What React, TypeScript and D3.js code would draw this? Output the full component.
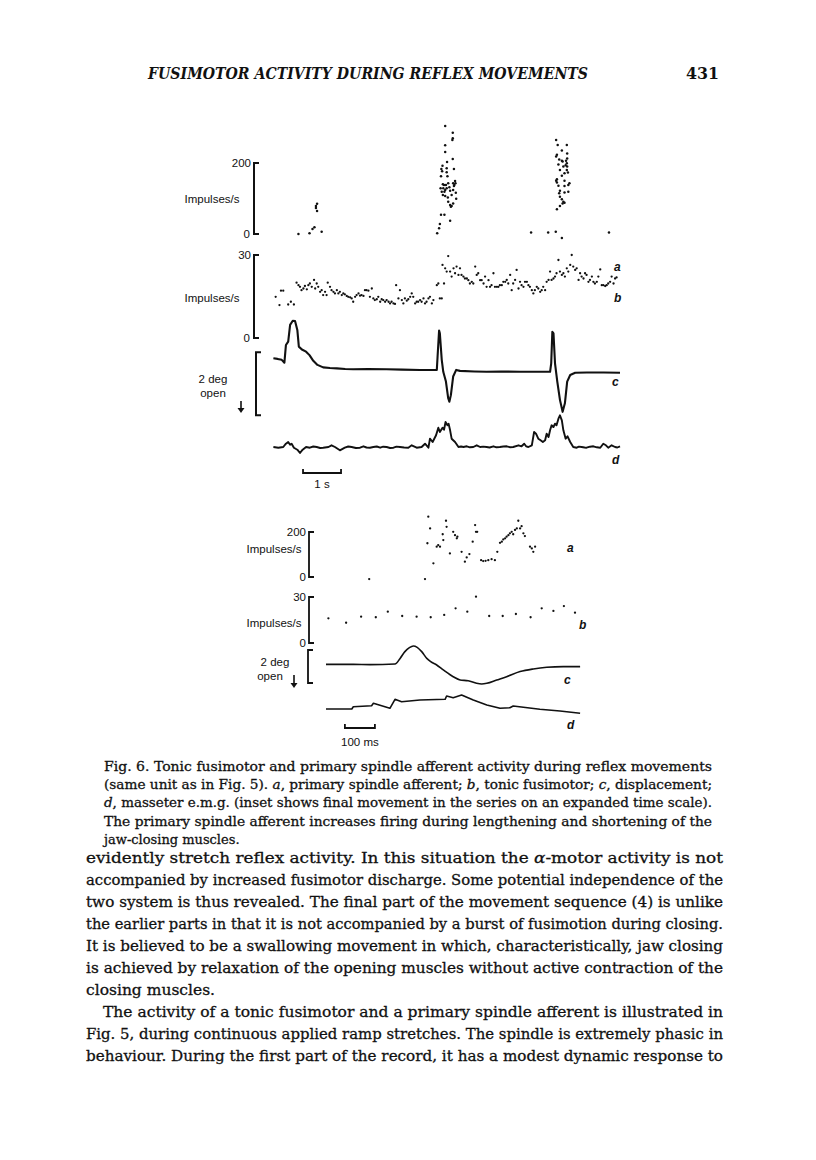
import React from "react";
import * as d3 from "d3";

// ---------- DATA ----------
// Top record: time in s, rates in impulses/s, displacement in deg, EMG in arbitrary units
const aTopSpikes: [number, number][] = [
  [0.67, 0], [0.96, 2], [1.04, 14], [1.09, 19], [1.28, 6], [1.16, 85], [1.13, 79], [1.13, 73], [1.16, 65],
  [4.53, 304], [4.73, 285], [4.73, 270], [4.72, 265], [4.53, 250], [4.53, 231], [4.73, 211], [4.58, 203],
  [4.46, 192], [4.43, 183], [4.45, 177], [4.57, 185], [4.76, 183], [4.57, 174], [4.42, 163], [4.59, 163],
  [4.79, 149], [4.47, 140], [4.5, 138], [4.55, 138], [4.61, 143], [4.74, 143], [4.77, 138], [4.8, 143],
  [4.76, 135], [4.41, 129], [4.48, 129], [4.53, 124], [4.57, 129], [4.64, 132], [4.66, 122], [4.44, 119],
  [4.51, 119], [4.74, 124], [4.81, 116], [4.47, 110], [4.53, 107], [4.6, 103], [4.7, 110], [4.82, 99],
  [4.61, 91], [4.66, 82], [4.7, 79], [4.68, 77], [4.74, 86], [4.42, 54], [4.51, 54], [4.66, 37],
  [4.39, 28], [4.37, 16], [4.32, 2],
  [7.45, 265], [7.49, 251], [7.73, 251], [7.6, 235], [7.47, 223], [7.45, 218], [7.74, 227], [7.53, 210],
  [7.74, 213], [7.6, 206], [7.62, 204], [7.51, 196], [7.71, 206], [7.73, 199], [7.7, 194], [7.74, 190],
  [7.64, 190], [7.55, 180], [7.73, 180], [7.76, 173], [7.67, 171], [7.6, 164], [7.47, 154], [7.45, 150],
  [7.47, 145], [7.67, 150], [7.8, 143], [7.77, 138], [7.51, 136], [7.67, 135], [7.55, 122], [7.53, 115],
  [7.77, 119], [7.67, 117], [7.55, 105], [7.6, 98], [7.64, 91], [7.62, 86], [7.67, 88], [7.55, 79],
  [7.47, 70], [6.79, 4], [7.24, 4], [7.44, 6], [7.6, -11], [8.84, 4],
];

const bTopSpikes: [number, number][] = [
  [0.07, 14.9], [0.17, 11.9], [0.21, 17.1], [0.27, 17.1], [0.4, 12.1], [0.47, 13.1], [0.55, 12.1],
  [0.62, 20.0], [0.67, 19.1], [0.71, 18.5], [0.75, 17.3], [0.8, 17.9], [0.84, 18.8], [0.89, 17.6],
  [0.93, 19.1], [0.97, 19.7], [1.02, 18.5], [1.08, 21.0], [1.11, 17.9], [1.15, 19.7], [1.19, 18.5],
  [1.24, 16.7], [1.28, 17.3], [1.32, 15.5], [1.37, 16.7], [1.41, 15.5], [1.44, 20.0], [1.5, 18.5],
  [1.54, 17.3], [1.59, 16.7], [1.63, 16.1], [1.68, 17.3], [1.72, 16.1], [1.76, 16.7], [1.81, 15.5],
  [1.85, 16.1], [1.89, 15.8], [1.94, 15.2], [1.98, 14.9], [2.03, 14.7], [2.07, 14.3], [2.11, 13.1],
  [2.16, 14.9], [2.2, 15.5], [2.25, 16.1], [2.29, 15.3], [2.33, 15.5], [2.38, 15.2], [2.42, 17.3],
  [2.46, 17.3], [2.51, 17.1], [2.55, 14.9], [2.6, 17.9], [2.64, 14.3], [2.68, 13.7], [2.73, 14.0],
  [2.77, 14.9], [2.82, 13.1], [2.86, 14.0], [2.9, 13.7], [2.95, 13.1], [2.99, 13.7], [3.04, 13.1],
  [3.08, 12.5], [3.12, 13.1], [3.17, 12.5], [3.21, 12.3], [3.24, 19.1], [3.3, 14.3], [3.34, 17.3],
  [3.39, 13.7], [3.43, 12.5], [3.47, 14.3], [3.52, 13.5], [3.56, 14.0], [3.61, 14.9], [3.65, 16.1],
  [3.69, 14.9], [3.74, 12.5], [3.78, 13.1], [3.82, 13.1], [3.87, 13.7], [3.91, 13.1], [3.96, 14.3],
  [4.0, 12.5], [4.04, 13.1], [4.09, 14.3], [4.13, 14.9], [4.18, 12.5], [4.22, 13.7], [4.31, 19.1],
  [4.35, 19.7], [4.39, 14.3], [4.44, 14.3], [4.46, 26.4], [4.5, 19.7], [4.53, 25.2], [4.57, 24.0],
  [4.61, 29.6], [4.66, 24.0], [4.7, 22.2], [4.75, 25.2], [4.79, 23.4], [4.83, 25.8], [4.88, 22.8],
  [4.92, 25.2], [4.96, 22.8], [5.01, 22.2], [5.05, 21.5], [5.1, 21.5], [5.14, 20.9], [5.18, 19.7],
  [5.23, 20.3], [5.27, 19.7], [5.32, 25.8], [5.36, 22.8], [5.4, 23.4], [5.45, 20.9], [5.49, 20.9],
  [5.54, 19.7], [5.58, 22.2], [5.62, 18.5], [5.67, 20.9], [5.71, 18.5], [5.75, 19.1], [5.8, 23.4],
  [5.84, 18.5], [5.89, 18.5], [5.93, 18.5], [5.97, 19.1], [6.02, 19.1], [6.06, 20.3], [6.11, 20.3],
  [6.15, 21.0], [6.19, 19.7], [6.24, 22.8], [6.28, 17.3], [6.32, 19.7], [6.37, 21.0], [6.41, 24.6],
  [6.46, 17.9], [6.5, 20.3], [6.54, 19.1], [6.59, 18.5], [6.63, 20.3], [6.68, 20.3], [6.72, 19.1],
  [6.76, 18.5], [6.81, 17.3], [6.85, 16.1], [6.89, 17.3], [6.94, 18.5], [6.98, 17.9], [7.03, 16.7],
  [7.07, 17.3], [7.11, 18.5], [7.16, 17.3], [7.2, 20.3], [7.25, 21.0], [7.29, 24.0], [7.33, 21.0],
  [7.38, 21.5], [7.42, 22.2], [7.46, 23.4], [7.51, 28.2], [7.55, 24.0], [7.6, 22.8], [7.64, 23.4],
  [7.68, 22.2], [7.73, 25.2], [7.77, 24.0], [7.82, 26.4], [7.86, 30.0], [7.9, 25.8], [7.95, 24.6],
  [7.99, 25.2], [8.04, 21.0], [8.08, 23.4], [8.12, 22.2], [8.17, 21.5], [8.21, 23.4], [8.25, 22.8],
  [8.3, 20.3], [8.34, 21.0], [8.39, 22.2], [8.43, 20.3], [8.47, 19.7], [8.52, 20.3], [8.56, 22.2],
  [8.61, 24.8], [8.65, 19.1], [8.69, 19.1], [8.74, 18.8], [8.78, 19.1], [8.82, 19.7], [8.87, 20.3],
  [8.91, 22.2], [8.96, 19.7], [9.0, 21.5], [9.04, 21.9],
];

const cTopTrace: [number, number][] = [
  [0.01, 0.35], [0.12, 0.33], [0.23, 0.3], [0.3, 0.21], [0.34, 0.77], [0.4, 0.88], [0.45, 1.41],
  [0.52, 1.54], [0.58, 1.53], [0.64, 1.25], [0.68, 0.72], [0.76, 0.63], [0.87, 0.56], [0.96, 0.45],
  [1.06, 0.27], [1.17, 0.14], [1.32, 0.06], [1.5, 0.04], [1.68, 0.03], [1.9, 0.01], [2.11, 0],
  [2.5, 0.01], [2.99, 0], [3.4, -0.01], [3.87, -0.02], [4.31, -0.02], [4.33, 0.4], [4.37, 1.23],
  [4.39, 1.14], [4.44, 0.3], [4.48, -0.08], [4.55, -0.39], [4.61, -0.92], [4.64, -1.03], [4.68, -0.82],
  [4.74, -0.23], [4.82, -0.02], [4.92, -0.05], [5.3, -0.07], [5.62, -0.08], [6.0, -0.07], [6.5, -0.08],
  [7.29, -0.08], [7.32, 0.19], [7.35, 1.19], [7.38, 1.14], [7.42, 0.19], [7.48, -0.39], [7.55, -0.97],
  [7.62, -1.35], [7.68, -1.08], [7.74, -0.39], [7.82, -0.18], [7.95, -0.11], [8.26, -0.1], [8.7, -0.1],
  [9.13, -0.11],
];

const dTopTrace: [number, number][] = [
  [0.01, 0], [0.14, -0.07], [0.27, 0], [0.34, 0.33], [0.4, 0.5], [0.45, 0.23], [0.49, 0.33], [0.55, -0.07],
  [0.64, -0.27], [0.71, -0.6], [0.78, -0.27], [0.87, 0], [0.97, -0.07], [1.06, 0.05], [1.15, 0], [1.24, -0.1],
  [1.32, -0.07], [1.46, 0], [1.54, 0.17], [1.63, 0], [1.76, -0.33], [1.89, -0.07], [1.98, 0.05], [2.07, 0],
  [2.18, -0.1], [2.29, -0.07], [2.38, 0.07], [2.46, -0.05], [2.55, -0.07], [2.64, 0], [2.73, 0.05],
  [2.82, -0.07], [2.9, 0.03], [2.99, 0], [3.08, -0.1], [3.17, -0.07], [3.25, 0.04], [3.34, 0], [3.45, -0.05],
  [3.56, -0.07], [3.65, 0.17], [3.78, -0.07], [3.91, 0], [4.0, 0.33], [4.09, -0.07], [4.13, 0.83],
  [4.2, 0.5], [4.29, 1.17], [4.35, 1.93], [4.39, 1.5], [4.46, 1.93], [4.5, 1.73], [4.54, 2.5], [4.59, 2.17],
  [4.62, 2.33], [4.66, 1.67], [4.7, 0.83], [4.79, 0.5], [4.88, 0], [4.95, 0.05], [5.01, 0], [5.1, 0.07],
  [5.18, -0.03], [5.27, 0], [5.36, 0.17], [5.45, 0], [5.53, 0.04], [5.62, 0], [5.7, -0.05], [5.8, 0.07],
  [5.88, -0.03], [5.97, 0], [6.06, 0.05], [6.15, 0.07], [6.23, -0.02], [6.32, 0], [6.46, 0.17], [6.54, 0.07],
  [6.61, 0.33], [6.66, 0.07], [6.72, 0], [6.81, 0.17], [6.87, 1.5], [6.92, 1.33], [6.98, 0.83], [7.04, 0.67],
  [7.1, 0.5], [7.16, 0.67], [7.2, 1.33], [7.25, 1.0], [7.29, 1.67], [7.33, 2.17], [7.38, 2.0], [7.42, 2.33],
  [7.46, 2.17], [7.51, 2.83], [7.55, 3.17], [7.6, 2.67], [7.64, 1.67], [7.7, 0.83], [7.75, 1.07], [7.82, 0.5],
  [7.9, 0], [7.99, -0.07], [8.05, 0.04], [8.12, 0], [8.2, -0.05], [8.25, -0.07], [8.34, 0.03], [8.43, 0.07],
  [8.52, -0.03], [8.61, -0.07], [8.69, 0.33], [8.76, 0.17], [8.82, -0.07], [8.91, 0.17], [9.0, 0], [9.06, -0.05],
  [9.13, 0.07],
];

// Inset (expanded time scale): time in ms
const aInsetSpikes: [number, number][] = [
  [144, -9], [330, -9], [341, 268], [347, 216], [338, 150], [358, 61], [369, 135], [374, 142], [380, 135],
  [389, 190], [391, 164], [400, 250], [402, 223], [413, 105], [424, 201], [430, 186], [436, 172], [438, 179],
  [452, 112], [463, 68], [469, 87], [478, 102], [489, 157], [497, 231], [500, 201], [504, 201], [517, 75],
  [524, 71], [532, 72], [541, 75], [552, 79], [563, 75], [571, 112], [580, 152], [586, 157], [591, 167],
  [597, 172], [602, 179], [608, 186], [613, 194], [619, 201], [624, 190], [630, 209], [636, 216], [641, 250],
  [647, 216], [652, 226], [658, 194], [663, 182], [680, 135], [686, 127], [691, 112], [697, 135],
];

const bInsetSpikes: [number, number][] = [
  [8, 16.1], [67, 13.2], [117, 17.2], [166, 16.8], [206, 20.4], [254, 17.6], [302, 17.2], [349, 16.8],
  [394, 18.3], [432, 22.6], [471, 20.4], [500, 30.2], [544, 17.6], [589, 17.6], [633, 18.9], [682, 16.8],
  [719, 22.6], [758, 20.9], [793, 24.1], [830, 19.8],
];

const cInsetTrace: [number, number][] = [
  [0, -0.02], [91, -0.02], [147, -0.04], [230, 0], [247, 0.34], [263, 0.75], [278, 0.99], [291, 1.09],
  [304, 1.01], [319, 0.75], [336, 0.34], [349, 0.14], [369, -0.06], [391, -0.36], [424, -0.77], [447, -0.97],
  [474, -1.01], [502, -1.17], [519, -1.21], [536, -1.17], [569, -0.97], [602, -0.77], [647, -0.46],
  [691, -0.3], [736, -0.2], [791, -0.16], [847, -0.16],
];

const dInsetTrace: [number, number][] = [
  [0, 0], [86, 0], [91, 0.23], [152, 0.33], [158, 0.57], [213, 0.07], [230, 0.97], [252, 0.73], [313, 0.9],
  [397, 0.97], [402, 1.3], [424, 1.13], [452, 1.4], [491, 0.9], [536, 0.4], [580, 0.07], [613, 0.13],
  [624, 0.3], [658, 0.17], [713, -0.03], [780, -0.2], [847, -0.43],
];

// Calibration labels
const rateTicksA = [0, 200];
const rateTicksB = [0, 30];
const dispLabel = ["2 deg", "open"];
const timeBarTop = "1 s";
const timeBarInset = "100 ms";
const traceLabels = ["a", "b", "c", "d"];

const header = "FUSIMOTOR ACTIVITY DURING REFLEX MOVEMENTS";
const pageNumber = "431";

type Seg = { t: string; i?: boolean };
const captionLines: Seg[][] = [
  [{ t: "Fig. 6. Tonic fusimotor and primary spindle afferent activity during reflex movements" }],
  [
    { t: "(same unit as in Fig. 5). " }, { t: "a", i: true }, { t: ", primary spindle afferent; " },
    { t: "b", i: true }, { t: ", tonic fusimotor; " }, { t: "c", i: true }, { t: ", displacement;" },
  ],
  [{ t: "d", i: true }, { t: ", masseter e.m.g. (inset shows final movement in the series on an expanded time scale)." }],
  [{ t: "The primary spindle afferent increases firing during lengthening and shortening of the" }],
  [{ t: "jaw-closing muscles." }],
];

const bodyLines: Seg[][] = [
  [{ t: "evidently stretch reflex activity. In this situation the " }, { t: "α", i: true }, { t: "-motor activity is not" }],
  [{ t: "accompanied by increased fusimotor discharge. Some potential independence of the" }],
  [{ t: "two system is thus revealed. The final part of the movement sequence (4) is unlike" }],
  [{ t: "the earlier parts in that it is not accompanied by a burst of fusimotion during closing." }],
  [{ t: "It is believed to be a swallowing movement in which, characteristically, jaw closing" }],
  [{ t: "is achieved by relaxation of the opening muscles without active contraction of the" }],
  [{ t: "closing muscles." }],
  [{ t: "The activity of a tonic fusimotor and a primary spindle afferent is illustrated in" }],
  [{ t: "Fig. 5, during continuous applied ramp stretches. The spindle is extremely phasic in" }],
  [{ t: "behaviour. During the first part of the record, it has a modest dynamic response to" }],
];

// ---------- COMPONENT ----------
const SANS = "'Liberation Sans', Arial, sans-serif";
const SERIF = "'DejaVu Serif', serif";
const INK = "#111";

function Bracket({ x, y0, y1, w = 5, sw = 2 }: { x: number; y0: number; y1: number; w?: number; sw?: number }) {
  const p = d3.path();
  p.moveTo(x + w, y0);
  p.lineTo(x, y0);
  p.lineTo(x, y1);
  p.lineTo(x + w, y1);
  return <path d={p.toString()} fill="none" stroke={INK} strokeWidth={sw} />;
}

function TimeBar({ x0, x1, y }: { x0: number; x1: number; y: number }) {
  const p = d3.path();
  p.moveTo(x0, y - 4);
  p.lineTo(x0, y);
  p.lineTo(x1, y);
  p.lineTo(x1, y - 4);
  return <path d={p.toString()} fill="none" stroke={INK} strokeWidth={1.8} />;
}

function Arrow({ x, y0, y1 }: { x: number; y0: number; y1: number }) {
  return (
    <g>
      <line x1={x} x2={x} y1={y0} y2={y1 - 3} stroke={INK} strokeWidth={1.6} />
      <path d={`M${x - 3.5},${y1 - 5} L${x},${y1} L${x + 3.5},${y1 - 5} Z`} fill={INK} />
    </g>
  );
}

function TextLine({ segs, x, y, width, size, italicAll, bold }: { segs: Seg[]; x: number; y: number; width?: number; size: number; italicAll?: boolean; bold?: boolean }) {
  return (
    <text
      x={x}
      y={y}
      fontFamily={SERIF}
      fontSize={size}
      fill={INK}
      stroke={INK}
      strokeWidth={0.3}
      fontWeight={bold ? "bold" : "normal"}
      fontStyle={italicAll ? "italic" : "normal"}
      textLength={width}
      lengthAdjust={width ? "spacingAndGlyphs" : undefined}
    >
      {segs.map((s, i) => (
        <tspan key={i} fontStyle={s.i || italicAll ? "italic" : "normal"}>{s.t}</tspan>
      ))}
    </text>
  );
}

export default function App() {
  // top record scales
  const xTop = d3.scaleLinear().domain([0, 9.13]).range([273, 620]);
  const yA = d3.scaleLinear().domain([0, 200]).range([234, 163]);
  const yB = d3.scaleLinear().domain([0, 30]).range([338, 255]);
  const yC = d3.scaleLinear().domain([0, 1]).range([369.3, 337.8]);
  const yD = d3.scaleLinear().domain([0, 1]).range([447, 437]);
  // inset scales
  const xIn = d3.scaleLinear().domain([0, 847]).range([326, 580.1]);
  const yAIn = d3.scaleLinear().domain([0, 200]).range([577, 532]);
  const yBIn = d3.scaleLinear().domain([0, 30]).range([643, 597]);
  const yCIn = d3.scaleLinear().domain([0, 1]).range([664, 647.5]);
  const yDIn = d3.scaleLinear().domain([0, 1]).range([709, 699]);

  const lineC = d3.line<[number, number]>().x((d) => xTop(d[0])).y((d) => yC(d[1])).curve(d3.curveLinear);
  const lineD = d3.line<[number, number]>().x((d) => xTop(d[0])).y((d) => yD(d[1])).curve(d3.curveLinear);
  const lineCIn = d3.line<[number, number]>().x((d) => xIn(d[0])).y((d) => yCIn(d[1])).curve(d3.curveMonotoneX);
  const lineDIn = d3.line<[number, number]>().x((d) => xIn(d[0])).y((d) => yDIn(d[1])).curve(d3.curveLinear);

  const labelStyle = { fontFamily: SANS, fontSize: 11.5, fill: INK } as const;
  const letterStyle = { fontFamily: SANS, fontSize: 12, fill: INK, fontStyle: "italic", fontWeight: "bold" } as const;

  return (
    <svg width={816} height={1160} style={{ position: "absolute", left: 0, top: 0, background: "#fff" }}>
      <rect width={816} height={1160} fill="#fff" />
      {/* Header */}
      <text x={148} y={79} fontFamily={SERIF} fontSize={16} fontWeight="bold" fontStyle="italic" fill={INK} textLength={440} lengthAdjust="spacingAndGlyphs">
        {header}
      </text>
      <text x={686} y={79} fontFamily={SERIF} fontSize={16} fontWeight="bold" fill={INK} textLength={33} lengthAdjust="spacingAndGlyphs">
        {pageNumber}
      </text>

      {/* ---------- Top record ---------- */}
      <Bracket x={254} y0={yA(rateTicksA[1])} y1={yA(rateTicksA[0])} />
      <text {...labelStyle} x={251} y={yA(rateTicksA[1]) + 4} textAnchor="end">{rateTicksA[1]}</text>
      <text {...labelStyle} x={250} y={yA(rateTicksA[0]) + 4} textAnchor="end">{rateTicksA[0]}</text>
      <text {...labelStyle} x={212} y={(yA(0) + yA(200)) / 2 + 4} textAnchor="middle">Impulses/s</text>
      {aTopSpikes.map((d, i) => (
        <circle key={"at" + i} cx={xTop(d[0])} cy={yA(d[1])} r={1.25} fill={INK} />
      ))}

      <Bracket x={254} y0={yB(rateTicksB[1])} y1={yB(rateTicksB[0])} />
      <text {...labelStyle} x={251} y={yB(rateTicksB[1]) + 4} textAnchor="end">{rateTicksB[1]}</text>
      <text {...labelStyle} x={250} y={yB(rateTicksB[0]) + 4} textAnchor="end">{rateTicksB[0]}</text>
      <text {...labelStyle} x={212} y={302} textAnchor="middle">Impulses/s</text>
      {bTopSpikes.map((d, i) => (
        <circle key={"bt" + i} cx={xTop(d[0])} cy={yB(d[1])} r={1.15} fill={INK} />
      ))}
      <text {...letterStyle} x={614} y={271}>{traceLabels[0]}</text>
      <text {...letterStyle} x={614} y={302}>{traceLabels[1]}</text>

      <Bracket x={256} y0={yC(0.54)} y1={yC(0.54 - 2)} />
      <text {...labelStyle} x={213} y={383} textAnchor="middle">{dispLabel[0]}</text>
      <text {...labelStyle} x={213} y={397} textAnchor="middle">{dispLabel[1]}</text>
      <Arrow x={241} y0={401} y1={413} />
      <path d={lineC(cTopTrace) || ""} fill="none" stroke={INK} strokeWidth={2.1} strokeLinejoin="round" />
      <text {...letterStyle} x={612} y={386}>{traceLabels[2]}</text>

      <path d={lineD(dTopTrace) || ""} fill="none" stroke={INK} strokeWidth={1.9} strokeLinejoin="round" />
      <text {...letterStyle} x={612} y={464}>{traceLabels[3]}</text>

      <TimeBar x0={xTop(0.79)} x1={xTop(1.79)} y={473} />
      <text {...labelStyle} x={xTop(1.29)} y={488} textAnchor="middle">{timeBarTop}</text>

      {/* ---------- Inset ---------- */}
      <Bracket x={309} y0={yAIn(rateTicksA[1])} y1={yAIn(rateTicksA[0])} sw={1.8} />
      <text {...labelStyle} x={306} y={yAIn(rateTicksA[1]) + 4} textAnchor="end">{rateTicksA[1]}</text>
      <text {...labelStyle} x={306} y={yAIn(rateTicksA[0]) + 4} textAnchor="end">{rateTicksA[0]}</text>
      <text {...labelStyle} x={274} y={553} textAnchor="middle">Impulses/s</text>
      {aInsetSpikes.map((d, i) => (
        <circle key={"ai" + i} cx={xIn(d[0])} cy={yAIn(d[1])} r={1.15} fill={INK} />
      ))}
      <text {...letterStyle} x={567} y={552}>{traceLabels[0]}</text>

      <Bracket x={309} y0={yBIn(rateTicksB[1])} y1={yBIn(rateTicksB[0])} sw={1.8} />
      <text {...labelStyle} x={306} y={yBIn(rateTicksB[1]) + 4} textAnchor="end">{rateTicksB[1]}</text>
      <text {...labelStyle} x={306} y={yBIn(rateTicksB[0]) + 4} textAnchor="end">{rateTicksB[0]}</text>
      <text {...labelStyle} x={274} y={627} textAnchor="middle">Impulses/s</text>
      {bInsetSpikes.map((d, i) => (
        <circle key={"bi" + i} cx={xIn(d[0])} cy={yBIn(d[1])} r={1.15} fill={INK} />
      ))}
      <text {...letterStyle} x={579} y={629}>{traceLabels[1]}</text>

      <Bracket x={308} y0={650} y1={683} sw={1.8} />
      <text {...labelStyle} x={275} y={666} textAnchor="middle">{dispLabel[0]}</text>
      <text {...labelStyle} x={270} y={680} textAnchor="middle">{dispLabel[1]}</text>
      <Arrow x={294} y0={675} y1={688} />
      <path d={lineCIn(cInsetTrace) || ""} fill="none" stroke={INK} strokeWidth={1.6} strokeLinejoin="round" />
      <text {...letterStyle} x={564} y={684}>{traceLabels[2]}</text>
      <path d={lineDIn(dInsetTrace) || ""} fill="none" stroke={INK} strokeWidth={1.6} strokeLinejoin="round" />
      <text {...letterStyle} x={567} y={729}>{traceLabels[3]}</text>

      <TimeBar x0={xIn(63)} x1={xIn(163)} y={728} />
      <text {...labelStyle} x={xIn(113)} y={746} textAnchor="middle">{timeBarInset}</text>

      {/* ---------- Caption ---------- */}
      {captionLines.map((segs, i) => (
        <TextLine
          key={"cap" + i}
          segs={segs}
          x={104}
          y={771 + i * 18.2}
          size={13}
          width={i < captionLines.length - 1 ? 608 : undefined}
        />
      ))}

      {/* ---------- Body ---------- */}
      {bodyLines.map((segs, i) => (
        <TextLine
          key={"body" + i}
          segs={segs}
          x={i === 7 ? 103 : 86}
          y={863 + i * 22}
          size={15.5}
          width={i === 6 ? undefined : i === 7 ? 620 : 637}
        />
      ))}
    </svg>
  );
}
